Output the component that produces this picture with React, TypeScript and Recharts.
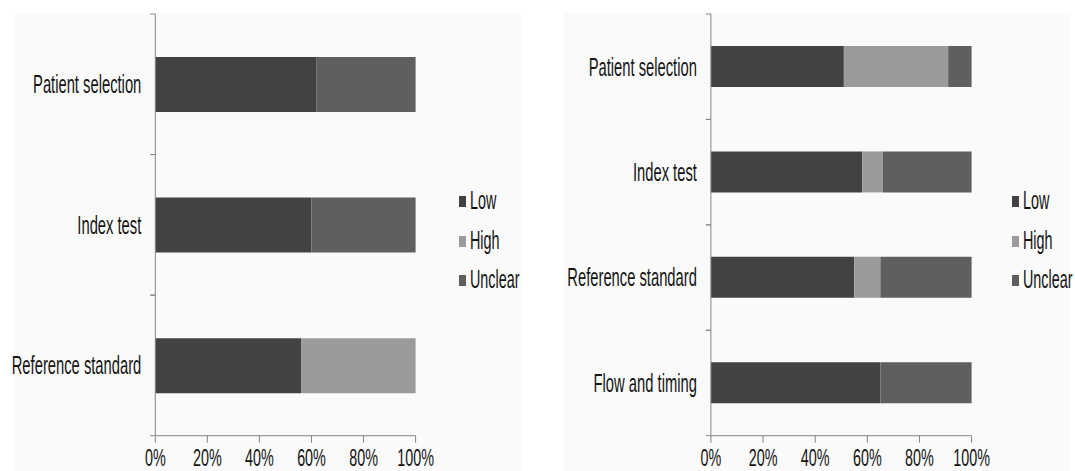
import React from "react";
import { BarChart, Bar, XAxis, YAxis, Legend } from "recharts";

// left panel
const leftCategories = ["Patient selection", "Index test", "Reference standard"];
const leftLow = [62, 60, 56];
const leftHigh = [0, 0, 44];
const leftUnclear = [38, 40, 0];

// right panel
const rightCategories = [
  "Patient selection",
  "Index test",
  "Reference standard",
  "Flow and timing",
];
const rightLow = [51, 58, 55, 65];
const rightHigh = [40, 8, 10, 0];
const rightUnclear = [9, 34, 35, 35];

const percentTicks = [0, 20, 40, 60, 80, 100];
const seriesKeys = ["Low", "High", "Unclear"];
const seriesColors = ["#424242", "#9b9b9b", "#5f5f5f"];

const FONT = '"Liberation Sans", Arial, sans-serif';
const TEXT = "#141414";
const AXIS = "#858585";
// the original text is narrow and tall
const SX = 0.82;
const SY = 1.4;
const LABEL_GAP = 14;

const buildRows = (
  cats: string[],
  low: number[],
  high: number[],
  unclear: number[]
) =>
  cats.map((name, i) => ({
    name,
    Low: low[i],
    High: high[i],
    Unclear: unclear[i],
  }));

const leftData = buildRows(leftCategories, leftLow, leftHigh, leftUnclear);
const rightData = buildRows(rightCategories, rightLow, rightHigh, rightUnclear);

const CategoryTick = (props: any) => {
  const { x, y, payload } = props;
  const axisX = x + LABEL_GAP;
  const half = payload.offset ?? 0;
  return (
    <g>
      <line x1={axisX - 5} x2={axisX} y1={y - half} y2={y - half} stroke={AXIS} />
      <line x1={axisX - 5} x2={axisX} y1={y + half} y2={y + half} stroke={AXIS} />
      <text
        transform={`translate(${x},${y}) scale(${SX},${SY})`}
        textAnchor="end"
        dy="0.35em"
        fontSize={18}
        fontFamily={FONT}
        fill={TEXT}
      >
        {payload.value}
      </text>
    </g>
  );
};

const PercentTick = (props: any) => {
  const { x, y, payload } = props;
  return (
    <text
      transform={`translate(${x},${y}) scale(${SX},1.35)`}
      textAnchor="middle"
      dy="0.71em"
      fontSize={17.5}
      fontFamily={FONT}
      fill={TEXT}
    >
      {`${payload.value}%`}
    </text>
  );
};

const LegendList = ({ gap }: { gap: number }) => (
  <div style={{ whiteSpace: "nowrap", width: 70 }}>
    {seriesKeys.map((k, i) => (
      <div
        key={k}
        style={{ height: 39.5, display: "flex", alignItems: "center" }}
      >
        <span
          style={{
            display: "inline-block",
            flexShrink: 0,
            width: 7,
            height: 11,
            background: seriesColors[i],
            marginRight: gap,
          }}
        />
        <span
          style={{
            display: "inline-block",
            fontSize: 17.5,
            lineHeight: 1,
            fontFamily: FONT,
            color: TEXT,
            transformOrigin: "left center",
            transform: `scale(${SX},1.45)`,
          }}
        >
          {k}
        </span>
      </div>
    ))}
  </div>
);

type PanelProps = {
  data: any[];
  width: number;
  axisWidth: number;
  marginLeft: number;
  marginRight: number;
  barSize: number;
  legendLeft: number;
  legendGap: number;
};

const Panel = ({
  data,
  width,
  axisWidth,
  marginLeft,
  marginRight,
  barSize,
  legendLeft,
  legendGap,
}: PanelProps) => (
  <BarChart
    layout="vertical"
    width={width}
    height={471}
    data={data}
    margin={{ top: 14, right: marginRight, bottom: 5.3, left: marginLeft }}
  >
    <XAxis
      type="number"
      domain={[0, 100]}
      ticks={percentTicks}
      interval={0}
      height={30}
      tickSize={7}
      tickMargin={7}
      stroke={AXIS}
      tick={<PercentTick />}
    />
    <YAxis
      type="category"
      dataKey="name"
      width={axisWidth}
      tickLine={false}
      tickSize={0}
      tickMargin={LABEL_GAP}
      stroke={AXIS}
      interval={0}
      tick={<CategoryTick />}
    />
    <Legend
      content={<LegendList gap={legendGap} />}
      verticalAlign="top"
      layout="horizontal"
      wrapperStyle={{
        left: legendLeft,
        top: 182,
        width: 0,
        height: 0,
        overflow: "visible",
      }}
    />
    {seriesKeys.map((k, i) => (
      <Bar
        key={k}
        dataKey={k}
        stackId="risk"
        fill={seriesColors[i]}
        barSize={barSize}
        isAnimationActive={false}
      />
    ))}
  </BarChart>
);

export default function App() {
  return (
    <div
      style={{
        position: "absolute",
        left: 0,
        top: 0,
        width: 1075,
        height: 471,
        background: "#ffffff",
        overflow: "hidden",
      }}
    >
      <div
        style={{
          position: "absolute",
          left: 14,
          top: 13,
          width: 508,
          height: 470,
          background: "#fafafa",
        }}
      />
      <div
        style={{
          position: "absolute",
          left: 564,
          top: 13,
          width: 506,
          height: 470,
          background: "#fafafa",
        }}
      />
      <div style={{ position: "absolute", left: 0, top: 0 }}>
        <Panel
          data={leftData}
          width={540}
          axisWidth={145}
          marginLeft={10.3}
          marginRight={124.4}
          barSize={55}
          legendLeft={459}
          legendGap={4}
        />
      </div>
      <div style={{ position: "absolute", left: 540, top: 0 }}>
        <Panel
          data={rightData}
          width={535}
          axisWidth={160}
          marginLeft={10.9}
          marginRight={103.4}
          barSize={41}
          legendLeft={472}
          legendGap={4}
        />
      </div>
    </div>
  );
}
